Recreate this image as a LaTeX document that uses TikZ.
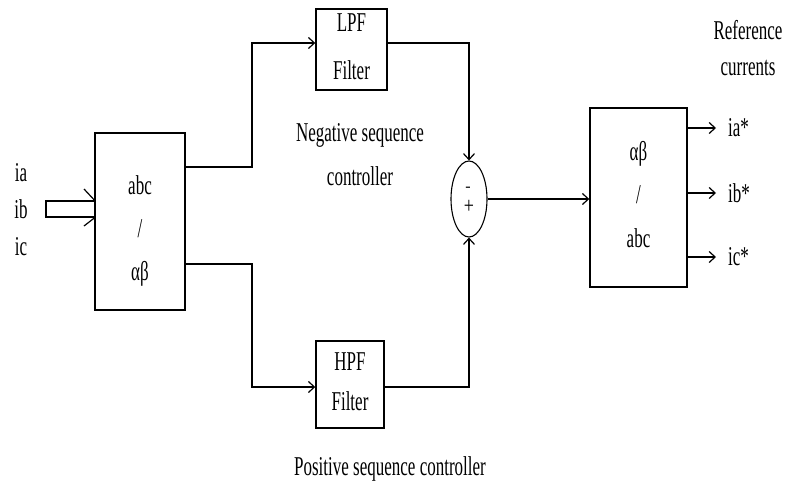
\documentclass[tikz,border=0pt]{standalone}
\usepackage{fontspec}
\setmainfont{Liberation Serif}
\usepackage{graphicx}
\usetikzlibrary{arrows.meta,shapes.geometric}
\newcommand{\tall}[1]{\scalebox{1}[1.6]{#1}}
\begin{document}
\begin{tikzpicture}[x=1pt,y=-1pt,
  blk/.style={draw, line width=1.4pt, inner sep=0pt, align=center, font=\fontsize{17}{20}\selectfont},
  conn/.style={line width=1.2pt},
  arr/.style={conn, -{Straight Barb[length=6pt,width=11pt]}},
  txt/.style={inner sep=0pt, align=center, font=\fontsize{17}{20}\selectfont},
]
\useasboundingbox (0,0) rectangle (785,491);
\fill[white] (0,0) rectangle (785,491);
% blocks
\node[blk, minimum width=90pt, minimum height=177pt] (abc) at (140,221.5)
  {\tall{\begin{tabular}{@{}c@{}}\rule{0pt}{26pt}abc\\[7pt]/\\[7pt]αβ\end{tabular}}};
\node[blk, minimum width=71pt, minimum height=81pt] (lpf) at (351.5,49.5)
  {\tall{\begin{tabular}{@{}c@{}}LPF\\[10pt]Filter\end{tabular}}};
\node[blk, minimum width=68pt, minimum height=87pt] (hpf) at (350,384.5)
  {\tall{\begin{tabular}{@{}c@{}}HPF\\[5pt]Filter\end{tabular}}};
\node[draw, ellipse, line width=1.1pt, minimum width=36pt, minimum height=76pt, inner sep=0pt] (sum) at (469,199) {};
\node[txt, font=\fontsize{16}{16}\selectfont] (minus) at (468,189) {-};
\node[txt, font=\fontsize{18}{18}\selectfont] (plus) at (469,207) {\scalebox{1}[1.3]{+}};
\node[blk, minimum width=97pt, minimum height=179pt] (inv) at (638.5,197.5)
  {\tall{\begin{tabular}{@{}c@{}}αβ\\[7pt]/\\[7pt]abc\end{tabular}}};
% texts
\node[txt] (inlbl) at (21,212) {\tall{\begin{tabular}{@{}c@{}}ia\\[3pt]ib\\[3pt]ic\end{tabular}}};
\node[txt] (neg) at (360,157) {\tall{\begin{tabular}{@{}c@{}}Negative sequence\\[8pt]controller\end{tabular}}};
\node[txt] (pos) at (390,469) {\tall{Positive sequence controller}};
\node[txt] (ref) at (748,51) {\tall{\begin{tabular}{@{}c@{}}Reference\\[3pt]currents\end{tabular}}};
\node[txt, anchor=west] (ia) at (728,128) {\tall{ia*}};
\node[txt, anchor=west] (ib) at (728,193) {\tall{ib*}};
\node[txt, anchor=west] (ic) at (728,257) {\tall{ic*}};
% input hollow arrow
\draw[conn] (abc.west |- 0,201) -- (46,201) -- (46,217) -- (abc.west |- 0,217);
\draw[conn] (84,189) -- (abc.west |- 0,200);
\draw[conn] (84,226) -- (abc.west |- 0,218);
% connectors
\draw[arr] (abc.east |- 0,167) -- (252,167) |- (lpf.west |- 0,43);
\draw[arr] (abc.east |- 0,264) -- (252,264) |- (hpf.west |- 0,387);
\draw[arr] (lpf.east |- 0,43) -| (sum.north);
\draw[arr] (hpf.east |- 0,387) -| (sum.south);
\draw[arr] (sum.east) -- (inv.west |- sum.east);
\draw[arr] (inv.east |- ia) -- ([xshift=-12pt]ia.west);
\draw[arr] (inv.east |- ib) -- ([xshift=-12pt]ib.west);
\draw[arr] (inv.east |- ic) -- ([xshift=-12pt]ic.west);
\end{tikzpicture}
\end{document}
